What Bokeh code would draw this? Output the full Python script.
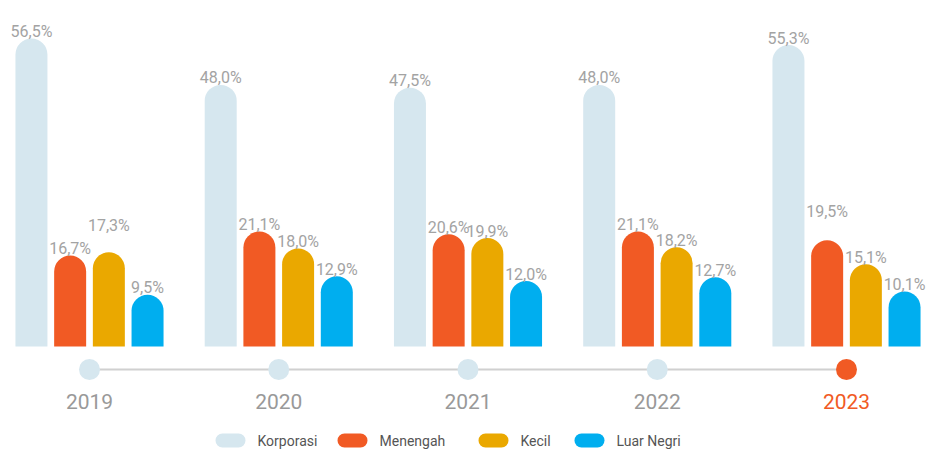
from bokeh.plotting import figure
from bokeh.models import Range1d, ColumnDataSource
from bokeh.core.properties import value
from bokeh.embed import file_html
from bokeh.resources import INLINE

years = ["2019", "2020", "2021", "2022", "2023"]
series = ["Korporasi", "Menengah", "Kecil", "Luar Negri"]
korporasi = [56.5, 48.0, 47.5, 48.0, 55.3]
menengah = [16.7, 21.1, 20.6, 21.1, 19.5]
kecil = [17.3, 18.0, 19.9, 18.2, 15.1]
luar_negri = [9.5, 12.9, 12.0, 12.7, 10.1]
colors = ["#d6e7ef", "#f15a24", "#eaa800", "#00aeef"]

# layout (pixels of the reference)
W, H = 929, 450
GROUP_PX = 189.25
PX_PER = 5.45
BASE_PY = 346          # baseline in figure pixels from top
BAR_W_PX = 32
PITCH_PX = 38.7
FIRST_PX = 89

def y_of(py):
    return (BASE_PY - py) / PX_PER

def x_of(px):
    return (px - FIRST_PX) / GROUP_PX

p = figure(width=W, height=H, output_backend="svg", toolbar_location=None,
           x_range=Range1d(x_of(0), x_of(W)), y_range=Range1d(y_of(H), y_of(0)),
           x_axis_location=None, y_axis_location=None, min_border=0)
p.grid.visible = False
p.outline_line_color = None
p.background_fill_color = "white"

bw = BAR_W_PX / GROUP_PX
offs = [(k - 1.5) * PITCH_PX / GROUP_PX for k in range(4)]
lifts = [[7, 7, 27, 7], [7, 7, 7, 7], [7, 7, 7, 7], [7, 7, 7, 7], [7, 29, 7, 7]]

for k, (name, vals) in enumerate(zip(series, [korporasi, menengah, kecil, luar_negri])):
    xs = [i + offs[k] for i in range(len(years))]
    labs = [f"{v:.1f}".replace(".", ",") + "%" for v in vals]
    src = ColumnDataSource(dict(x=xs, top=vals))
    p.vbar(x="x", top="top", bottom=0, width=bw, source=src,
           fill_color=colors[k], line_color=None, border_radius=(16, 16, 0, 0))
    for i in range(len(years)):
        p.text(x=[xs[i]], y=[vals[i]], text=[labs[i]],
               text_align="center", text_baseline="alphabetic",
               y_offset=-lifts[i][k], text_font=value("Roboto"),
               text_font_size="16px", text_color="#a3a3a3")

# timeline
line_y = y_of(369)
p.line(x=[0, len(years) - 1], y=[line_y, line_y], line_color="#d0d0d0", line_width=2)
dot_colors = ["#d6e7ef"] * (len(years) - 1) + ["#f15a24"]
p.scatter(x=list(range(len(years))), y=[line_y] * len(years), size=21,
          fill_color=dot_colors, line_color=None)
year_colors = ["#999999"] * (len(years) - 1) + ["#f15a24"]
p.text(x=list(range(len(years))), y=[y_of(401)] * len(years), text=years,
       text_align="center", text_baseline="middle", text_font=value("Roboto"),
       text_font_size="21px", text_color=year_colors)

# legend (rounded pills)
pill_left_px = [215, 337, 478, 574]
leg_y = y_of(440)
pill_h = 14 / PX_PER
p.hbar(y=[leg_y] * 4, left=[x_of(v) for v in pill_left_px],
       right=[x_of(v + 30) for v in pill_left_px], height=pill_h,
       fill_color=colors, line_color=None, border_radius=7)
p.text(x=[x_of(v + 42) for v in pill_left_px], y=[leg_y] * 4, text=series,
       text_align="left", text_baseline="middle", text_font=value("Roboto"),
       text_font_size="14px", text_color="#555555")

open("out.html", "w").write(file_html(p, INLINE))
